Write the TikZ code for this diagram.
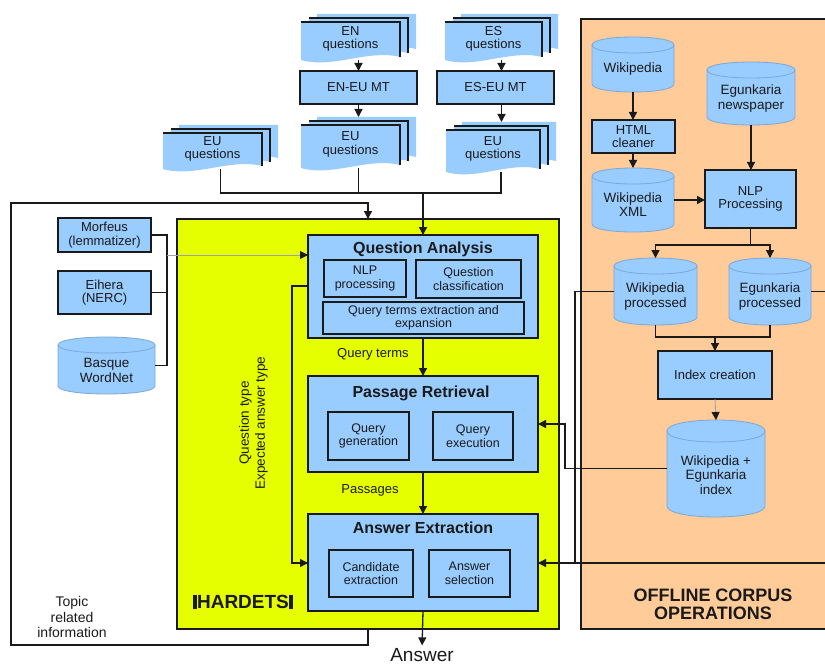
\documentclass[tikz,border=0pt]{standalone}
\usepackage{fontspec}
\setmainfont{Liberation Sans}
\usetikzlibrary{arrows.meta}

\definecolor{boxblue}{HTML}{99CCFF}
\definecolor{hyellow}{HTML}{E6FF00}
\definecolor{offorange}{HTML}{FFCC99}
\definecolor{dbedge}{HTML}{7DA7D9}
\definecolor{thinline}{HTML}{A0A0A0}
\definecolor{ink}{HTML}{1A1A1A}

\tikzset{
  every node/.style={inner sep=0pt, outer sep=0pt},
  fnt/.style={font=\fontsize{13}{13.5}\selectfont, text=ink},
  proc/.style={draw=ink, line width=1.8pt, fill=boxblue, align=center, fnt},
  subbox/.style={draw=ink, line width=1.4pt, fill=boxblue, align=center,
                 font=\fontsize{12.5}{13.5}\selectfont, text=ink},
  stage/.style={draw=ink, line width=1.8pt, fill=boxblue},
  qtitle/.style={font=\bfseries\fontsize{16}{18}\selectfont, text=ink},
  anchorbox/.style={inner sep=0pt, outer sep=0pt},
  dbcyl/.style={fill=boxblue, draw=dbedge, line width=0.8pt},
  conn/.style={line width=1.3pt, draw=ink},
  arr/.style={conn, -{Triangle[length=8pt,width=8pt]}},
  thinarr/.style={line width=0.8pt, draw=thinline, -{Triangle[length=8pt,width=8pt,color=ink]}},
  container/.style={draw=ink, line width=1.5pt},
}

% stacked documents: name, x, y, w, h (front sheet), text
\newcommand\qdocs[6]{%
  \foreach \dx/\dy/\edge in {16/-8/0, 8/-4/1, 0/0/1} {
    \fill[boxblue] ({#2+\dx},{#3+\dy}) -- ({#2+#4+\dx},{#3+\dy}) -- ({#2+#4+\dx},{#3+#5+\dy-3})
      .. controls ({#2+0.68*#4+\dx},{#3+#5+\dy-11}) and ({#2+0.32*#4+\dx},{#3+#5+\dy+9}) ..
      ({#2+\dx},{#3+#5+\dy}) -- cycle;
    \ifnum\edge=1
      \draw[line width=1.4pt, ink] ({#2+\dx},{#3+\dy}) -- ({#2+#4+\dx},{#3+\dy}) -- ({#2+#4+\dx},{#3+#5+\dy-3});
    \fi
  }
  \node[anchorbox, minimum width={#4+16}, minimum height={#5+8}] (#1) at ({#2+(#4+16)/2},{#3-8+(#5+8)/2}) {};
  \node[fnt, align=center] (#1-t) at ({#2+#4/2},{#3+#5/2-2}) {#6};
}

% database cylinder: name, x0, y0, x1, y1, ellipse half-height, text
\newcommand\dbase[7]{%
  \filldraw[dbcyl] (#2,{#3+#6}) -- (#2,{#5-#6})
    .. controls (#2,{#5+#6/3}) and (#4,{#5+#6/3}) .. (#4,{#5-#6})
    -- (#4,{#3+#6})
    .. controls (#4,{#3-#6/3}) and (#2,{#3-#6/3}) .. (#2,{#3+#6}) -- cycle;
  \draw[dbcyl, fill=none] (#2,{#3+#6}) .. controls (#2,{#3+7*#6/3}) and (#4,{#3+7*#6/3}) .. (#4,{#3+#6});
  \node[anchorbox, minimum width={#4-#2}, minimum height={#5-#3}] (#1) at ({(#2+#4)/2},{(#3+#5)/2}) {};
  \node[fnt, align=center, font=\fontsize{13.5}{14.5}\selectfont] (#1-t) at ({(#2+#4)/2},{(#3+#5)/2+#6*0.6}) {#7};
}

\begin{document}
\begin{tikzpicture}[x=1pt,y=-1pt]
\useasboundingbox (0,0) rectangle (825,666);
\clip (0,0) rectangle (825,666);
\fill[white] (0,0) rectangle (825,666);

% ---------- containers ----------
\node[container, fill=offorange, minimum width=279, minimum height=610] (offline) at (720.5,324) {};
\node[container, fill=hyellow, minimum width=382, minimum height=410] (hardets) at (368,424) {};

\node[font=\bfseries\fontsize{18}{18}\selectfont, text=ink, align=center] (offline-t) at (713,604)
  {OFFLINE CORPUS\\OPERATIONS};
\node[font=\bfseries\fontsize{19}{19}\selectfont, text=ink] (hardets-t) at (243,602)
  {\rule{4pt}{13.6pt}HARDETS\rule{4pt}{13.6pt}};

% ---------- question sources ----------
\qdocs{enq}{301}{22}{99}{38}{EN\\questions}
\qdocs{esq}{445}{22}{97}{38}{ES\\questions}
\qdocs{euq1}{163}{133}{99}{36}{EU\\questions}
\qdocs{euq2}{301}{125}{99}{43}{EU\\questions}
\qdocs{euq3}{446}{130}{94}{42}{EU\\questions}

\node[proc, minimum width=117, minimum height=33] (enmt) at (358.5,87.5) {EN-EU MT};
\node[proc, minimum width=117, minimum height=33] (esmt) at (495.5,87.5) {ES-EU MT};

% ---------- linguistic resources ----------
\node[proc, minimum width=93, minimum height=34] (morf) at (104.5,235) {Morfeus\\(lemmatizer)};
\node[proc, minimum width=93, minimum height=43] (eih) at (104.5,292.5) {Eihera\\(NERC)};
\dbase{wn}{58}{337}{155}{394}{8}{Basque\\WordNet}

% ---------- HARDETS stages ----------
\node[stage, minimum width=230, minimum height=103] (qa) at (423,286.5) {};
\node[qtitle] (qa-t) at (423,249) {Question Analysis};
\node[subbox, minimum width=82, minimum height=37] (qa-nlp) at (365,278.5) {NLP\\processing};
\node[subbox, minimum width=105, minimum height=38] (qa-cls) at (468.5,279) {Question\\classification};
\node[subbox, minimum width=201, minimum height=32] (qa-ext) at (423.5,318) {Query terms extraction and\\expansion};

\node[stage, minimum width=230, minimum height=96] (pr) at (423,424) {};
\node[qtitle] (pr-t) at (421,393) {Passage Retrieval};
\node[subbox, minimum width=81, minimum height=48] (pr-gen) at (368.5,436) {Query\\generation};
\node[subbox, minimum width=80, minimum height=48] (pr-exe) at (473,436) {Query\\execution};

\node[stage, minimum width=230, minimum height=97] (ae) at (423,562.5) {};
\node[qtitle] (ae-t) at (423,528) {Answer Extraction};
\node[subbox, minimum width=84, minimum height=47] (ae-cand) at (371,573.5) {Candidate\\extraction};
\node[subbox, minimum width=81, minimum height=47] (ae-sel) at (469.5,573.5) {Answer\\selection};

\node[fnt] (qterms-l) at (373,354) {Query terms};
\node[fnt] (pass-l) at (370,490) {Passages};
\node[fnt, align=center, rotate=90, font=\fontsize{13.5}{16}\selectfont] (qtype-l) at (253.5,423)
  {Question type\\Expected answer type};

\node[font=\fontsize{19}{21}\selectfont, text=ink] (ans) at (422,655) {Answer};
\node[align=center, font=\fontsize{14}{15.5}\selectfont, text=ink] (topic-l) at (72,617)
  {Topic\\related\\information};

% ---------- offline corpus operations ----------
\dbase{wiki}{592}{37}{674}{92}{8}{Wikipedia}
\node[proc, minimum width=83, minimum height=33] (html) at (633.5,136.5) {HTML\\cleaner};
\dbase{wxml}{592}{168}{674}{232}{8}{Wikipedia\\XML}
\dbase{egun}{707}{62}{795}{125}{8}{Egunkaria\\newspaper}
\node[proc, minimum width=91, minimum height=58] (nlp2) at (750.5,199) {NLP\\Processing};
\dbase{wkp}{614}{258}{697}{325}{8}{Wikipedia\\processed}
\dbase{egp}{729}{258}{811}{325}{8}{Egunkaria\\processed}
\node[proc, minimum width=114, minimum height=48] (index) at (715,375) {Index creation};
\dbase{idx}{667}{420}{765}{517}{11}{Wikipedia +\\Egunkaria\\index}

% ---------- routing points ----------
\coordinate (jn) at (423,193);
\coordinate (lb) at (368,645);
\coordinate (lbl) at (11,645);
\coordinate (ltl) at (11,203);
\coordinate (lt) at (368,203);
\coordinate (mbus) at (167,255);
\coordinate (qt1) at (292,286);
\coordinate (qt2) at (292,563);
\coordinate (c1) at (565,424);
\coordinate (c2) at (838,563);
\coordinate (c3) at (575,563);
\coordinate (c4) at (713,245);
\coordinate (c5) at (715,337);

% ---------- connectors: question translation ----------
\draw[arr] (enq.south) -- (enq.south |- enmt.north);
\draw[arr] (enmt.south -| enq.south) -- (euq2.north);
\draw[arr] (esq.south) -- (esq.south |- esmt.north);
\draw[arr] (esmt.south -| esq.south) -- (euq3.north -| esq.south);
\draw[conn] (euq1.south) |- (jn) -| (euq3.south);
\draw[conn] (euq2.south) -- (euq2.south |- jn);
\draw[arr] (jn) -- (qa.north);

% topic related information loop
\draw[arr] (hardets.south -| lb) -- (lb) -- (lbl) -- (ltl) -- (lt) -- (hardets.north -| lt);

% linguistic resources
\draw[conn] (morf.east) -| (mbus |- wn.east) -- (wn.east);
\draw[conn] (eih.east) -- (eih.east -| mbus);
\draw[thinarr] (mbus) -- (qa.west |- mbus);

% pipeline
\draw[arr] (qa.south) -- (pr.north);
\draw[arr] (pr.south) -- (ae.north);
\draw[arr] (qa.west |- qt1) -- (qt1) -- (qt2) -- (ae.west |- qt2);
\draw[arr, shorten >=3pt] (ae.south) -- (ans.north);

% offline corpus flows
\draw[arr] (wiki.south) -- (wiki.south |- html.north);
\draw[arr] (html.south -| wxml.south) -- (wxml.north);
\draw[arr] (wxml.east) -- (wxml.east -| nlp2.west);
\draw[arr] (egun.south) -- (egun.south |- nlp2.north);
\draw[arr] (nlp2.south) |- (wkp.north |- c4) -- (wkp.north);
\draw[arr] (nlp2.south |- c4) -| (egp.north);
\draw[conn] (wkp.south) |- (c5) -| (egp.south);
\draw[arr] (c5) -- (index.north);
\draw[thinarr] (index.south) -- (idx.north);

% index and processed corpora feeding HARDETS
\draw[arr] (idx.west) -| (c1) -- (pr.east |- c1);
\draw[arr] (egp.east) -| (c2) -- (ae.east |- c2);
\draw[conn] (wkp.west) -| (c3);
\end{tikzpicture}
\end{document}
